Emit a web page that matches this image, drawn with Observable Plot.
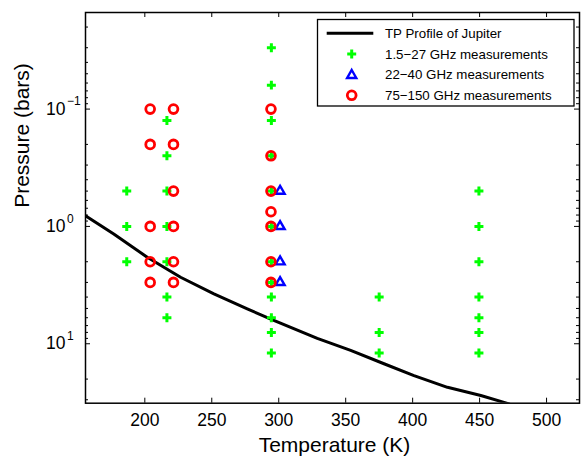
<!DOCTYPE html>
<html><head><meta charset="utf-8">
<script src="https://cdn.jsdelivr.net/npm/d3@7"></script>
<script src="https://cdn.jsdelivr.net/npm/@observablehq/plot@0.6"></script>
<style>
html,body{margin:0;padding:0;background:#fff;}
#chart{position:relative;width:581px;height:457px;font-family:"Liberation Sans",Arial,sans-serif;}
#chart svg{display:block;}
#legend{position:absolute;left:0;top:0;pointer-events:none;}
</style></head><body><div id="chart"></div>
<script>
// ---- tick values / labels ----
const xTicks = [200, 250, 300, 350, 400, 450, 500];
const yMajorTicks = [0.1, 1, 10];
const yTickBase = "10";
const yTickExponents = ["\u22121", "0", "1"];
const yMinorTicks = [0.02,0.03,0.04,0.05,0.06,0.07,0.08,0.09,
                     0.2,0.3,0.4,0.5,0.6,0.7,0.8,0.9,
                     2,3,4,5,6,7,8,9,20,30];
const xLabel = "Temperature (K)";
const yLabel = "Pressure (bars)";

// ---- TP profile of Jupiter ----
const profileT = [150, 155.7, 176.8, 201.8, 226.7, 251.6, 276.5, 294.5, 328.8, 353.7, 378.6, 401, 426, 450.9, 472];
const profileP = [0.73, 0.81, 1.16, 1.83, 2.71, 3.76, 5.04, 6.2, 9.0, 11.4, 14.8, 18.7, 23.5, 27.6, 32.5];

// ---- measurements ----
const lowBandTemps = [186.5, 216.5, 294.5, 375, 449.5];
const lowBandPressures = [
  [0.5, 1, 2],
  [0.125, 0.25, 0.5, 1, 2, 4, 6],
  [0.03, 0.0625, 0.125, 0.25, 0.5, 1, 2, 3, 4, 6, 8, 12],
  [4, 8, 12],
  [0.5, 1, 2, 4, 6, 8, 12]
];
const midBandTemps = [301];
const midBandPressures = [[0.5, 1, 2, 3]];
const highBandTemps = [204, 221.4, 294.2];
const highBandPressures = [
  [0.1, 0.2, 1, 2, 3],
  [0.1, 0.2, 0.5, 1, 2, 3],
  [0.1, 0.25, 0.5, 0.75, 1, 2, 3]
];

const legendLabels = ["TP Profile of Jupiter", "1.5\u221227 GHz measurements", "22\u221240 GHz measurements", "75\u2212150 GHz measurements"];

// ---- build tables ----
const profile = profileT.map((T, i) => ({T, P: profileP[i]}));
const rows = (temps, press) => temps.flatMap((T, i) => press[i].map(P => ({T, P})));
const low = rows(lowBandTemps, lowBandPressures);
const mid = rows(midBandTemps, midBandPressures);
const high = rows(highBandTemps, highBandPressures);

const W = 581, H = 457, mL = 85, mR = 2, mT = 12, mB = 54.3;
const plotW = W - mL - mR, plotH = H - mT - mB;
const font = "Liberation Sans, Arial, sans-serif";
const GREEN = "#00ff00", BLUE = "#0000ff", RED = "#ff0000";

const chart = Plot.plot({
  width: W, height: H,
  marginLeft: mL, marginRight: mR, marginTop: mT, marginBottom: mB,
  style: {fontFamily: font, background: "white", color: "black"},
  x: {domain: [155.7, 524.6], axis: null},
  y: {type: "log", domain: [0.01503, 32.1], reverse: true, axis: null},
  marks: [
    Plot.line(profile, {x: "T", y: "P", stroke: "black", strokeWidth: 3, clip: true}),
    Plot.dot(low, {x: "T", y: "P", symbol: "plus", r: 3, stroke: GREEN, strokeWidth: 3, fill: "none"}),
    Plot.dot(mid, {x: "T", y: "P", symbol: "triangle", r: 3.4, stroke: BLUE, strokeWidth: 2.4, fill: "none"}),
    Plot.dot(high, {x: "T", y: "P", symbol: "circle", r: 4.4, stroke: RED, strokeWidth: 2.8, fill: "none"}),
    // inward ticks, all four sides
    Plot.ruleX(xTicks, {x: d => d, insetTop: plotH - 5, stroke: "black", strokeWidth: 1}),
    Plot.ruleX(xTicks, {x: d => d, insetBottom: plotH - 5, stroke: "black", strokeWidth: 1}),
    Plot.ruleY(yMajorTicks, {y: d => d, insetRight: plotW - 5, stroke: "black", strokeWidth: 1}),
    Plot.ruleY(yMajorTicks, {y: d => d, insetLeft: plotW - 5, stroke: "black", strokeWidth: 1}),
    Plot.ruleY(yMinorTicks, {y: d => d, insetRight: plotW - 3, stroke: "black", strokeWidth: 1}),
    Plot.ruleY(yMinorTicks, {y: d => d, insetLeft: plotW - 3, stroke: "black", strokeWidth: 1}),
    Plot.frame({stroke: "black", strokeWidth: 1.5}),
    // tick labels
    Plot.text(xTicks, {x: d => d, frameAnchor: "bottom", text: d => String(d), dy: 23, lineAnchor: "bottom", fontSize: 17.5, fill: "black"}),
    Plot.text(yMajorTicks, {y: d => d, frameAnchor: "left", text: () => yTickBase, dx: -20, textAnchor: "end", fontSize: 17.5, fill: "black"}),
    Plot.text(yMajorTicks, {y: d => d, frameAnchor: "left", text: (d, i) => yTickExponents[i], dx: -18.5, dy: -7.5, textAnchor: "start", fontSize: 12, fill: "black"}),
    // axis titles
    Plot.text([xLabel], {frameAnchor: "bottom", text: d => d, dx: 2, dy: 49, lineAnchor: "bottom", fontSize: 21, fill: "black"}),
    Plot.text([yLabel], {frameAnchor: "left", text: d => d, dx: -63.5, rotate: -90, fontSize: 21, fill: "black"})
  ]
});
const container = document.getElementById("chart");
container.appendChild(chart);

// ---- legend (inside plot, top right) ----
const lg = d3.select(container).append("svg").attr("id", "legend").attr("width", W).attr("height", H);
const box = {x: 317.5, y: 19.5, w: 256.5, h: 86.5};
lg.append("rect").attr("x", box.x).attr("y", box.y).attr("width", box.w).attr("height", box.h)
  .attr("fill", "white").attr("stroke", "black").attr("stroke-width", 1.3);
const rowY = [33.3, 54, 74.3, 95.3];
const symX = 351.7, textX = 385;
lg.append("line").attr("x1", 326.7).attr("x2", 373.3).attr("y1", rowY[0]).attr("y2", rowY[0])
  .attr("stroke", "black").attr("stroke-width", 3);
const sym = (type, r) => d3.symbol(type, Math.PI * r * r)();
lg.append("path").attr("d", sym(d3.symbolPlus, 3)).attr("transform", `translate(${symX},${rowY[1]})`)
  .attr("stroke", GREEN).attr("stroke-width", 3).attr("fill", "none");
lg.append("path").attr("d", sym(d3.symbolTriangle, 3.4)).attr("transform", `translate(${symX},${rowY[2] + 1})`)
  .attr("stroke", BLUE).attr("stroke-width", 2.4).attr("fill", "none");
lg.append("path").attr("d", sym(d3.symbolCircle, 4.4)).attr("transform", `translate(${symX},${rowY[3]})`)
  .attr("stroke", RED).attr("stroke-width", 2.8).attr("fill", "none");
legendLabels.forEach((t, i) => {
  lg.append("text").attr("x", textX).attr("y", rowY[i]).attr("dy", "0.35em")
    .attr("font-family", font).attr("font-size", 13.3).attr("fill", "black").text(t);
});
</script></body></html>
